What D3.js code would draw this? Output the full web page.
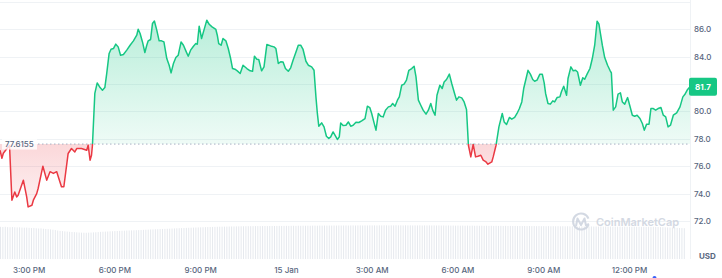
<!DOCTYPE html>
<html>
<head>
<meta charset="utf-8">
<script src="https://cdn.jsdelivr.net/npm/d3@7"></script>
<style>
  body { margin: 0; background: #ffffff; }
  #wrapper svg { display: block; font-family: Inter, "Noto Sans", sans-serif; }
</style>
</head>
<body>
<div id="wrapper"></div>
<script>
// minutes after 14:00 on 14 Jan
const minutes = [
  0, 4, 7, 17, 20, 25, 31, 35, 38, 49, 56, 59, 67, 70, 77, 80, 90, 98, 105, 112, 119, 129, 134, 143, 150, 157, 161, 171, 182, 185, 189, 192, 194,
  199, 204, 210, 215, 220, 224, 229, 233, 238, 243, 248, 253, 259, 266, 273, 280, 287, 290, 294, 299, 304, 308, 311, 316, 320, 324, 329, 334, 339, 344,
  350, 355, 359, 364, 369, 374, 380, 385, 390, 395, 400, 406, 411, 414, 418, 423, 428, 434, 439, 445, 453, 456, 459, 464, 468, 474, 479, 484, 488, 493, 498, 504,
  510, 518, 525, 530, 534, 539, 543, 549, 554, 560, 568, 575, 579, 584, 589, 594, 599, 605, 610, 615, 620, 626, 631, 636, 642, 647, 654, 659, 663, 666,
  669, 675, 680, 685, 690, 694, 699, 705, 708, 712, 715, 720, 726, 731, 736, 741, 747, 753, 759, 766, 771, 776, 780, 785, 789, 794, 799, 804, 809, 815,
  820, 824, 829, 834, 838, 843, 848, 853, 858, 864, 869, 873, 878, 883, 888, 894, 899, 904, 908, 913, 917, 923, 928, 932, 937, 943, 948, 953, 958, 963,
  969, 974, 979,
  983, 988, 993, 998, 1003, 1009, 1014, 1020, 1024, 1032, 1035, 1041, 1047, 1054, 1058, 1063, 1069, 1074, 1080, 1085, 1090, 1095, 1099, 1104, 1108,
  1113, 1118, 1122, 1127, 1133, 1138, 1142, 1145, 1150, 1155, 1160, 1164, 1169, 1175, 1178, 1183, 1189, 1192, 1198, 1203, 1208, 1212, 1218, 1223, 1227,
  1232, 1238, 1243, 1248, 1253, 1257, 1260, 1264, 1269, 1275, 1280, 1283, 1287, 1292, 1297, 1302, 1306, 1311, 1317, 1322, 1327, 1332, 1337, 1343, 1348,
  1352, 1357, 1362, 1366, 1371, 1376, 1381, 1387, 1392, 1397, 1402, 1407, 1413, 1420, 1427, 1433, 1437, 1443, 1448
]

const prices = [
  77.17, 76.58, 76.95, 77.4, 77.5, 73.52, 74.12, 73.76, 73.88, 74.98, 73.76, 73.03, 73.15, 73.52, 74.0, 74.37, 76.0, 74.98, 75.6, 75.47, 75.6, 74.5, 74.5, 76.93, 77.29, 77.04, 77.29, 77.29, 77.17, 77.53, 76.44, 76.8, 77.53,
  81.31, 82.08, 81.74, 81.55, 81.74, 82.77, 84.23, 84.54, 84.59, 84.91, 84.71, 84.1, 84.15, 84.47, 84.83, 85.15, 85.56, 86.0, 85.69, 85.07, 84.3, 84.83, 85.15, 85.25, 86.42, 86.6, 85.93, 85.15, 85.15, 85.07,
  83.86, 83.37, 82.81, 83.5, 83.93, 84.1, 85.07, 84.83, 84.42, 84.03, 84.47, 84.76, 84.95, 84.9, 86.22, 85.32, 85.93, 86.66, 86.36, 86.17, 85.98, 85.56, 84.95, 84.83, 85.32, 85.15, 84.59, 83.86, 83.13, 83.08, 82.96, 82.77,
  83.37, 83.13, 82.96, 82.93, 84.03, 83.81, 83.79, 82.96, 83.25, 84.88, 84.78, 84.71, 84.59, 83.5, 83.62, 83.6, 83.13, 82.93, 83.18, 83.74, 84.23, 84.83, 84.83, 84.52, 83.66, 83.37, 83.25, 83.0, 81.06, 79.85,
  78.92, 79.16, 78.87, 78.19, 78.02, 78.14, 78.5, 78.14, 77.95, 78.14, 79.16, 78.97, 78.99, 79.23, 78.92, 78.99, 79.21, 79.19, 79.31, 79.48, 80.38, 80.28, 79.85, 79.16, 78.63, 79.85, 79.65, 79.6, 80.09, 80.33,
  80.38, 80.58, 80.38, 80.82, 81.06, 81.91, 81.99, 82.28, 83.0, 83.13, 83.3, 82.52, 80.82, 80.45, 80.09, 79.8, 80.09, 80.58, 80.09, 79.72, 81.18, 81.91, 81.67, 82.15, 82.33, 82.72, 82.04, 81.42, 80.82, 81.06,
  80.99, 80.69, 80.14,
  77.53, 76.68, 77.6, 76.68, 76.73, 76.8, 76.44, 76.31, 76.15, 76.31, 76.68, 77.53, 78.87, 79.85, 79.23, 79.04, 79.56, 79.43, 79.56, 79.85, 80.21, 80.69, 81.67, 82.4, 83.0,
  82.72, 82.33, 82.2, 82.28, 82.72, 82.72, 82.08, 81.31, 80.58, 80.53, 80.77, 80.69, 81.01, 81.06, 81.42, 81.84, 81.18, 82.4, 83.25, 82.96, 83.0, 82.88, 81.91, 82.45, 82.35,
  82.72, 83.13, 83.86, 84.83, 86.58, 86.36, 85.69, 84.83, 83.93, 83.37, 83.0, 82.81, 80.09, 80.33, 81.26, 81.35, 80.69, 80.53, 81.01, 80.38, 79.72, 79.65, 79.72, 79.48, 79.12,
  78.63, 79.07, 79.07, 80.21, 80.21, 80.09, 80.21, 80.28, 79.72, 79.6, 78.87, 78.99, 79.72, 79.89, 80.33, 81.06, 81.23, 81.6, 81.8
]

// 5-minute volume bars (millions USD)
const volumes = [
  106, 105.5, 106.2, 105, 104.8, 105.3, 104.6, 104, 104.4, 103.6, 103.2, 103.5,
  102.8, 102, 102.4, 101.3, 100.6, 100.9, 99.8, 99, 98.4, 97.6, 96.5, 95.4,
  93.8, 92.6, 92, 91.1, 90.4, 89.6, 89, 88.5, 87.9, 87.2, 86.8, 86.6,
  86.4, 86.9, 87.2, 87.8, 88.1, 88.7, 89.4, 89.9, 90.3, 90.6, 91.2, 91.5,
  92, 92.3, 92.7, 93.1, 93.3, 93.8, 94.1, 94.4, 94.6, 94.9, 95.2, 95.5,
  96, 96.4, 96.8, 97.3, 97.5, 98, 98.3, 98.7, 99, 99.4, 99.7, 100,
  100.4, 100.8, 101.2, 101.5, 101.9, 102.2, 102.6, 102.9, 103.2, 103.5, 103.8, 104.1,
  104.4, 104.7, 105, 105.2, 105.5, 105.7, 106, 106.2, 106.4, 106.5, 106.7, 106.9,
  107, 107.2, 107.3, 107.5, 107.6, 107.8, 107.9, 108, 108.1, 108.2, 108.3, 108.4,
  108.5, 108.4, 108.6, 108.7, 108.5, 108.8, 108.9, 108.7, 109, 109.1, 108.9, 109.2,
  109.3, 109.1, 109.4, 109.5, 109.2, 109.6, 109.4, 109.7, 109.5, 109.8, 109.6, 109.9,
  110, 109.7, 110.1, 109.9, 110.2, 110, 110.3, 110.1, 110.4, 110.2, 110.5, 110.3,
  110.4, 110.6, 110.2, 110.5, 110.7, 110.3, 110.6, 110.8, 110.4, 110.7, 110.5, 110.9,
  110.6, 110.8, 110.5, 110.9, 110.7, 111, 110.8, 110.6, 110.9, 110.7, 111.1, 110.8,
  110.9, 110.6, 111, 110.7, 110.9, 110.5, 110.8, 110.6, 110.9, 110.4, 110.7, 110.5,
  110.8, 110.4, 110.7, 110.3, 110.6, 110.2, 110.5, 110.1, 110.4, 110, 110.3, 109.9,
  110.2, 109.8, 110.1, 109.7, 110, 109.6, 109.9, 109.5, 109.8, 109.4, 109.7, 109.3,
  109.6, 109.2, 109.5, 109.1, 109.4, 109, 109.3, 108.9, 109.2, 108.8, 109.1, 108.7,
  109, 108.6, 108.9, 108.5, 108.8, 108.4, 108.7, 108.3, 108.6, 108.2, 108.5, 108.1,
  108.4, 108, 108.3, 107.9, 108.2, 107.8, 108.1, 107.7, 108, 107.6, 107.9, 107.5,
  107.8, 107.4, 107.7, 107.3, 107.6, 107.2, 107.5, 107.1, 107.4, 107, 107.3, 106.9,
  107.2, 106.8, 107.1, 106.7, 107, 106.6, 106.9, 106.5, 106.8, 106.4, 106.7, 106.3,
  106.6, 106.2, 106.5, 106.1, 106.4, 106, 106.3, 105.9, 106.2, 105.8, 106.1, 105.7,
  105.5, 105.1, 104.8, 104.4, 104.1, 103.7, 103.4, 103, 102.7, 102.3, 102, 101.6
]

const openPrice = 77.6155
const lastPriceLabel = "81.7"
const gridValues = [72, 74, 76, 78, 80, 82, 84, 86, 88]
const yTicks = [72, 74, 76, 78, 80, 82, 84, 86]
const xTickMinutes = [60, 240, 420, 600, 780, 960, 1140, 1320]
const xTickLabels = ["3:00 PM", "6:00 PM", "9:00 PM", "15 Jan", "3:00 AM", "6:00 AM", "9:00 AM", "12:00 PM"]

function drawChart() {
    const dataset = minutes.map((m, i) => ({ m: m, price: prices[i] }))
    const volData = volumes.map((v, i) => ({ m: i * 5, v: v }))

    //Accessor
    const xAccessor = d => d.m
    const yAccessor = d => d.price

    let dimensions = {
      width: 722,
      height: 278,
      plotRight: 690,
      priceTop: 29.2,
      priceBottom: 221,
      volTop: 225,
      volBottom: 259,
    }

    const green = "#16c784"
    const red = "#ea3943"
    const grey = "#58667e"

    const wrapper = d3.select("#wrapper")
        .append("svg")
        .attr("width", dimensions.width)
        .attr("height", dimensions.height)

    const xScaler = d3.scaleLinear()
        .domain([0, 1448])
        .range([0, dimensions.plotRight])

    const yScaler = d3.scaleLinear()
        .domain([72, 86])
        .range([dimensions.priceBottom, dimensions.priceTop])

    const volScaler = d3.scaleLinear()
        .domain([0, 112])
        .range([dimensions.volBottom, dimensions.volTop])

    const baseY = yScaler(openPrice)
    const last = dataset[dataset.length - 1]
    const lastY = yScaler(yAccessor(last))

    // defs: clips + gradients
    const defs = wrapper.append("defs")
    defs.append("clipPath").attr("id", "above")
      .append("rect")
        .attr("x", 0).attr("y", 0)
        .attr("width", dimensions.plotRight).attr("height", baseY)
    defs.append("clipPath").attr("id", "below")
      .append("rect")
        .attr("x", 0).attr("y", baseY)
        .attr("width", dimensions.plotRight).attr("height", dimensions.volBottom - baseY)

    const gGreen = defs.append("linearGradient").attr("id", "gradGreen")
        .attr("gradientUnits", "userSpaceOnUse")
        .attr("x1", 0).attr("x2", 0).attr("y1", 20).attr("y2", baseY)
    gGreen.append("stop").attr("offset", "0%").attr("stop-color", green).attr("stop-opacity", 0.3)
    gGreen.append("stop").attr("offset", "100%").attr("stop-color", green).attr("stop-opacity", 0.07)

    const gRed = defs.append("linearGradient").attr("id", "gradRed")
        .attr("gradientUnits", "userSpaceOnUse")
        .attr("x1", 0).attr("x2", 0).attr("y1", baseY).attr("y2", 210)
    gRed.append("stop").attr("offset", "0%").attr("stop-color", red).attr("stop-opacity", 0.2)
    gRed.append("stop").attr("offset", "100%").attr("stop-color", red).attr("stop-opacity", 0.06)

    // gridlines
    wrapper.append("g")
      .selectAll("line")
      .data(gridValues)
      .enter()
      .append("line")
        .attr("x1", 0)
        .attr("x2", dimensions.plotRight)
        .attr("y1", d => Math.round(yScaler(d)) + 0.5)
        .attr("y2", d => Math.round(yScaler(d)) + 0.5)
        .attr("stroke", "#eff2f5")
        .attr("stroke-width", 1)

    wrapper.append("line")
        .attr("x1", dimensions.plotRight + 0.5)
        .attr("x2", dimensions.plotRight + 0.5)
        .attr("y1", 0)
        .attr("y2", dimensions.volBottom)
        .attr("stroke", "#eff2f5")

    // volume bars
    wrapper.append("g")
      .selectAll("rect")
      .data(volData)
      .enter()
      .append("rect")
        .attr("x", d => xScaler(d.m))
        .attr("y", d => volScaler(d.v))
        .attr("width", 1)
        .attr("height", d => dimensions.volBottom - volScaler(d.v))
        .attr("fill", "#e6e9ee")

    // watermark
    const mark = wrapper.append("g").attr("opacity", 0.9)
    mark.append("path")
        .attr("d", "M588.5,224.5 A8,8 0 1 1 588.5,218.5")
        .attr("fill", "none")
        .attr("stroke", "#cfd5e0")
        .attr("stroke-width", 2)
    mark.append("path")
        .attr("d", "M576,226 L577.5,218.5 L581,225 L584.5,218.5 L586,225.5 L589,224")
        .attr("fill", "none")
        .attr("stroke", "#cfd5e0")
        .attr("stroke-width", 2)
        .attr("stroke-linejoin", "round")
    mark.append("text")
        .attr("x", 596)
        .attr("y", 222)
        .attr("dy", "0.35em")
        .attr("font-size", "11px")
        .attr("font-weight", 600)
        .attr("fill", "#cfd5e0")
        .text("CoinMarketCap")

    // areas and lines
    const areaGen = d3.area()
        .x(d => xScaler(xAccessor(d)))
        .y0(baseY)
        .y1(d => yScaler(yAccessor(d)))

    const lineGen = d3.line()
        .x(d => xScaler(xAccessor(d)))
        .y(d => yScaler(yAccessor(d)))

    wrapper.append("path")
        .datum(dataset)
        .attr("clip-path", "url(#above)")
        .attr("d", areaGen)
        .attr("fill", "url(#gradGreen)")

    wrapper.append("path")
        .datum(dataset)
        .attr("clip-path", "url(#below)")
        .attr("d", areaGen)
        .attr("fill", "url(#gradRed)")

    // open price dotted line
    wrapper.append("line")
        .attr("x1", 38)
        .attr("x2", dimensions.plotRight)
        .attr("y1", baseY)
        .attr("y2", baseY)
        .attr("stroke", "#a6b0c3")
        .attr("stroke-width", 1)
        .attr("stroke-dasharray", "1.5 2.5")

    wrapper.append("path")
        .datum(dataset)
        .attr("clip-path", "url(#above)")
        .attr("d", lineGen)
        .attr("fill", "none")
        .attr("stroke", green)
        .attr("stroke-width", 1.5)
        .attr("stroke-linejoin", "round")

    wrapper.append("path")
        .datum(dataset)
        .attr("clip-path", "url(#below)")
        .attr("d", lineGen)
        .attr("fill", "none")
        .attr("stroke", red)
        .attr("stroke-width", 1.5)
        .attr("stroke-linejoin", "round")

    // open price label
    wrapper.append("rect")
        .attr("x", 2)
        .attr("y", baseY - 5.5)
        .attr("width", 35)
        .attr("height", 11)
        .attr("fill", "#ffffff")
        .attr("opacity", 0.8)
    wrapper.append("text")
        .attr("x", 5)
        .attr("y", baseY)
        .attr("dy", "0.35em")
        .attr("font-size", "8px")
        .attr("font-weight", 500)
        .attr("fill", grey)
        .text(openPrice)

    // axes
    const xAxis = wrapper.append("g")
        .attr("transform", `translate(0, ${dimensions.volBottom})`)
        .call(d3.axisBottom(xScaler)
            .tickValues(xTickMinutes)
            .tickSize(0)
            .tickPadding(8)
            .tickFormat((d, i) => xTickLabels[i]))
    xAxis.select(".domain").remove()
    xAxis.selectAll("text")
        .attr("font-family", "Inter, sans-serif")
        .attr("font-size", "8px")
        .attr("font-weight", 500)
        .attr("fill", grey)

    // tick labels hidden behind the last price tag are not drawn
    const visibleYTicks = yTicks.filter(d => Math.abs(yScaler(d) - lastY) > 10)
    const yAxis = wrapper.append("g")
        .attr("transform", `translate(${dimensions.plotRight}, 0)`)
        .call(d3.axisRight(yScaler)
            .tickValues(visibleYTicks)
            .tickSize(0)
            .tickPadding(4)
            .tickFormat(d3.format(".1f")))
    yAxis.select(".domain").remove()
    yAxis.selectAll("text")
        .attr("font-family", "Inter, sans-serif")
        .attr("font-size", "8px")
        .attr("font-weight", 500)
        .attr("fill", grey)

    // last price tag
    wrapper.append("rect")
        .attr("x", dimensions.plotRight - 1)
        .attr("y", lastY - 9)
        .attr("width", 28)
        .attr("height", 18)
        .attr("rx", 2)
        .attr("fill", green)
    wrapper.append("text")
        .attr("x", dimensions.plotRight + 13)
        .attr("y", lastY)
        .attr("dy", "0.35em")
        .attr("text-anchor", "middle")
        .attr("font-size", "8px")
        .attr("font-weight", 700)
        .attr("fill", "#ffffff")
        .text(lastPriceLabel)

    wrapper.append("text")
        .attr("x", 699)
        .attr("y", 256)
        .attr("dy", "0.35em")
        .attr("font-size", "8px")
        .attr("font-weight", 700)
        .attr("fill", grey)
        .text("USD")

    wrapper.append("circle")
        .attr("cx", 654.5)
        .attr("cy", 278)
        .attr("r", 2)
        .attr("fill", "#3861fb")
}

drawChart()
</script>
</body>
</html>
